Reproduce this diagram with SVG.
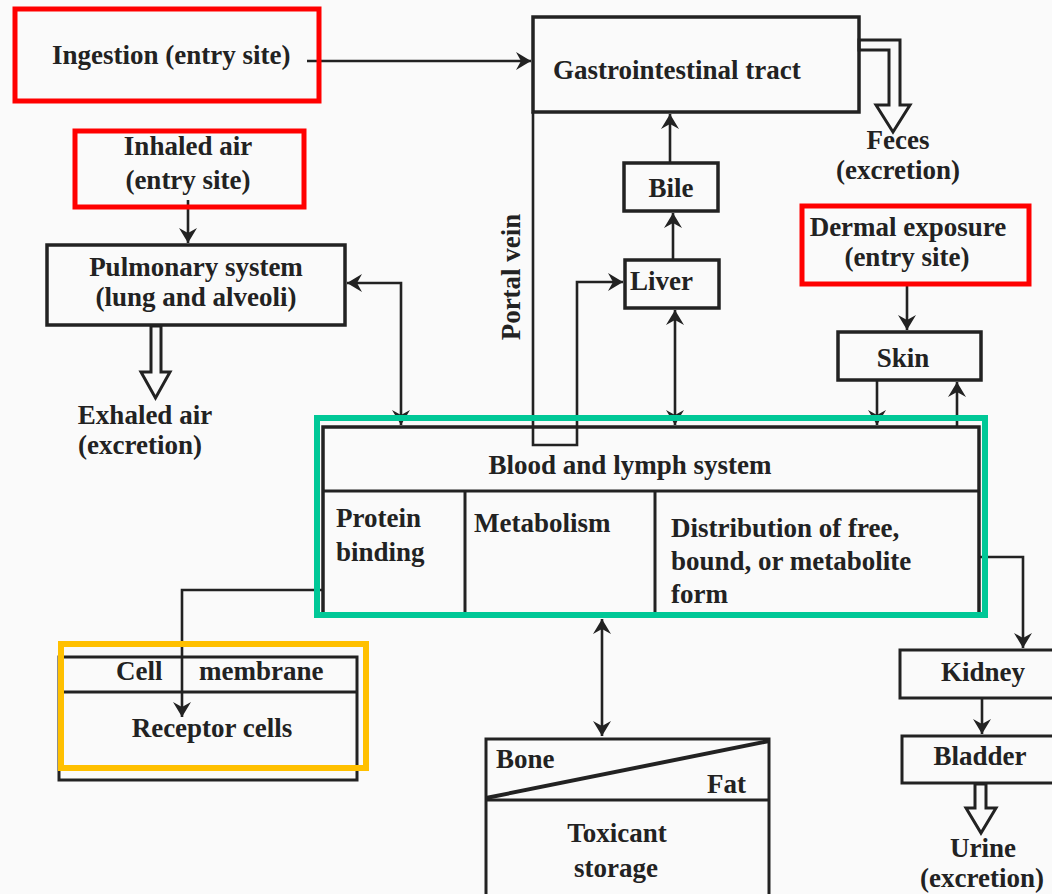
<svg xmlns="http://www.w3.org/2000/svg" width="1052" height="894" viewBox="0 0 1052 894">
<defs>
<style>
.t{font-family:"Liberation Serif","Times New Roman",serif;font-weight:bold;font-size:27px;fill:#222}
.m{text-anchor:middle}
.box{fill:none;stroke:#222;stroke-width:3.5}
.ln{fill:none;stroke:#222;stroke-width:3}
.c{fill:none;stroke:#222;stroke-width:2.6}
.hol{fill:#fafafa;stroke:#222;stroke-width:3;stroke-linejoin:miter}
.red{fill:none;stroke:#ff0000;stroke-width:5}
.grn{fill:none;stroke:#00c897;stroke-width:6}
.org{fill:none;stroke:#ffc000;stroke-width:6}
</style>
<marker id="ah" markerUnits="userSpaceOnUse" markerWidth="18" markerHeight="20" refX="15" refY="9" orient="auto-start-reverse" viewBox="0 0 18 20">
<path d="M0,0 L15,9 L0,18 L5,9 z" fill="#222"/>
</marker>
</defs>
<rect width="1052" height="894" fill="#fafafa"/>

<g id="connectors">
<line class="c" x1="307" y1="61" x2="531" y2="61" marker-end="url(#ah)"/>
<line class="c" x1="188" y1="200" x2="188" y2="243" marker-end="url(#ah)"/>
<path class="c" d="M347,283 H401 V425" marker-start="url(#ah)" marker-end="url(#ah)"/>
<path class="c" d="M533,112 V445 H577 V282 H623" marker-end="url(#ah)"/>
<line class="c" x1="670" y1="163" x2="670" y2="114" marker-end="url(#ah)"/>
<line class="c" x1="673" y1="260" x2="673" y2="213" marker-end="url(#ah)"/>
<line class="c" x1="675" y1="310" x2="675" y2="425" marker-start="url(#ah)" marker-end="url(#ah)"/>
<line class="c" x1="907" y1="284" x2="907" y2="330" marker-end="url(#ah)"/>
<line class="c" x1="877" y1="380" x2="877" y2="425" marker-end="url(#ah)"/>
<line class="c" x1="957" y1="427" x2="957" y2="382" marker-end="url(#ah)"/>
<path class="c" d="M979,557 H1023 V648" marker-end="url(#ah)"/>
<path class="c" d="M322,590 H182 V717" marker-end="url(#ah)"/>
<line class="c" x1="602" y1="619" x2="602" y2="736" marker-start="url(#ah)" marker-end="url(#ah)"/>
<line class="c" x1="982" y1="698" x2="982" y2="734" marker-end="url(#ah)"/>
<polygon class="hol" points="151,326 161,326 161,372 170,372 155.5,398 141,372 151,372"/>
<polygon class="hol" points="859,40 900,40 900,105 910,105 893,132 876,105 889,105 889,50 859,50"/>
<polygon class="hol" points="975,784 986,784 986,808 996,808 981,833 966,808 975,808"/>
</g>

<g id="ingestion">
<rect class="red" x="15" y="9" width="304" height="92"/>
<text class="t" x="52" y="64">Ingestion (entry site)</text>
</g>

<g id="gi-tract">
<rect class="box" x="533" y="17" width="326" height="95"/>
<text class="t" x="553" y="79">Gastrointestinal tract</text>
</g>

<g id="feces">
<text class="t m" x="898" y="149">Feces</text>
<text class="t m" x="898" y="179">(excretion)</text>
</g>

<g id="inhaled-air">
<rect class="red" x="75" y="131" width="229" height="76"/>
<text class="t m" x="188" y="155">Inhaled air</text>
<text class="t m" x="188" y="189">(entry site)</text>
</g>

<g id="pulmonary">
<rect class="box" x="47" y="245" width="298" height="80"/>
<text class="t m" x="196" y="275.5">Pulmonary system</text>
<text class="t m" x="196" y="305.5">(lung and alveoli)</text>
</g>

<g id="exhaled-air">
<text class="t m" x="145" y="423.5">Exhaled air</text>
<text class="t m" x="140" y="453.5">(excretion)</text>
</g>

<g id="portal-vein">
<text class="t m" transform="translate(520,277) rotate(-90)" x="0" y="0">Portal vein</text>
</g>

<g id="bile">
<rect class="box" x="624" y="163" width="94" height="48"/>
<text class="t m" x="671" y="197">Bile</text>
</g>

<g id="liver">
<rect class="box" x="625" y="260" width="94" height="48"/>
<text class="t" x="630" y="290">Liver</text>
</g>

<g id="dermal">
<rect class="red" x="802" y="206" width="227" height="78"/>
<text class="t m" x="908" y="235.5">Dermal exposure</text>
<text class="t m" x="907" y="265.5">(entry site)</text>
</g>

<g id="skin">
<rect class="box" x="838" y="332" width="143" height="48"/>
<text class="t m" x="903" y="367">Skin</text>
</g>

<g id="blood-lymph">
<rect class="box" x="323" y="427" width="656" height="189"/>
<line class="ln" x1="323" y1="491" x2="979" y2="491"/>
<line class="ln" x1="465" y1="491" x2="465" y2="616"/>
<line class="ln" x1="655" y1="491" x2="655" y2="616"/>
<text class="t m" x="630" y="474">Blood and lymph system</text>
<text class="t" x="336" y="527">Protein</text>
<text class="t" x="336" y="561">binding</text>
<text class="t" x="474" y="532">Metabolism</text>
<text class="t" x="671" y="537">Distribution of free,</text>
<text class="t" x="671" y="570">bound, or metabolite</text>
<text class="t" x="671" y="603">form</text>
<rect class="grn" x="317" y="418" width="668" height="197"/>
</g>

<g id="receptor">
<path class="ln" d="M59,657 H357 V780 H59 Z"/>
<line class="ln" x1="59" y1="692" x2="357" y2="692"/>
<text class="t" x="116" y="680">Cell</text>
<text class="t" x="199" y="680">membrane</text>
<text class="t m" x="212" y="737">Receptor cells</text>
<rect class="org" x="61" y="644" width="305" height="124"/>
</g>

<g id="toxicant-storage">
<path class="ln" d="M486,895 V739 H769 V895"/>
<line class="ln" x1="486" y1="800" x2="769" y2="800"/>
<line class="ln" x1="486" y1="798" x2="769" y2="741" style="stroke-width:4"/>
<text class="t" x="496" y="768">Bone</text>
<text class="t" x="707" y="793">Fat</text>
<text class="t m" x="617" y="842">Toxicant</text>
<text class="t m" x="616" y="877">storage</text>
</g>

<g id="kidney">
<path class="ln" d="M1055,650 H900 V698 H1055"/>
<text class="t m" x="983" y="681">Kidney</text>
</g>

<g id="bladder">
<path class="ln" d="M1055,736 H902 V783 H1055"/>
<text class="t m" x="980" y="765">Bladder</text>
</g>

<g id="urine">
<text class="t m" x="983" y="856.5">Urine</text>
<text class="t m" x="982" y="886.5">(excretion)</text>
</g>
</svg>
